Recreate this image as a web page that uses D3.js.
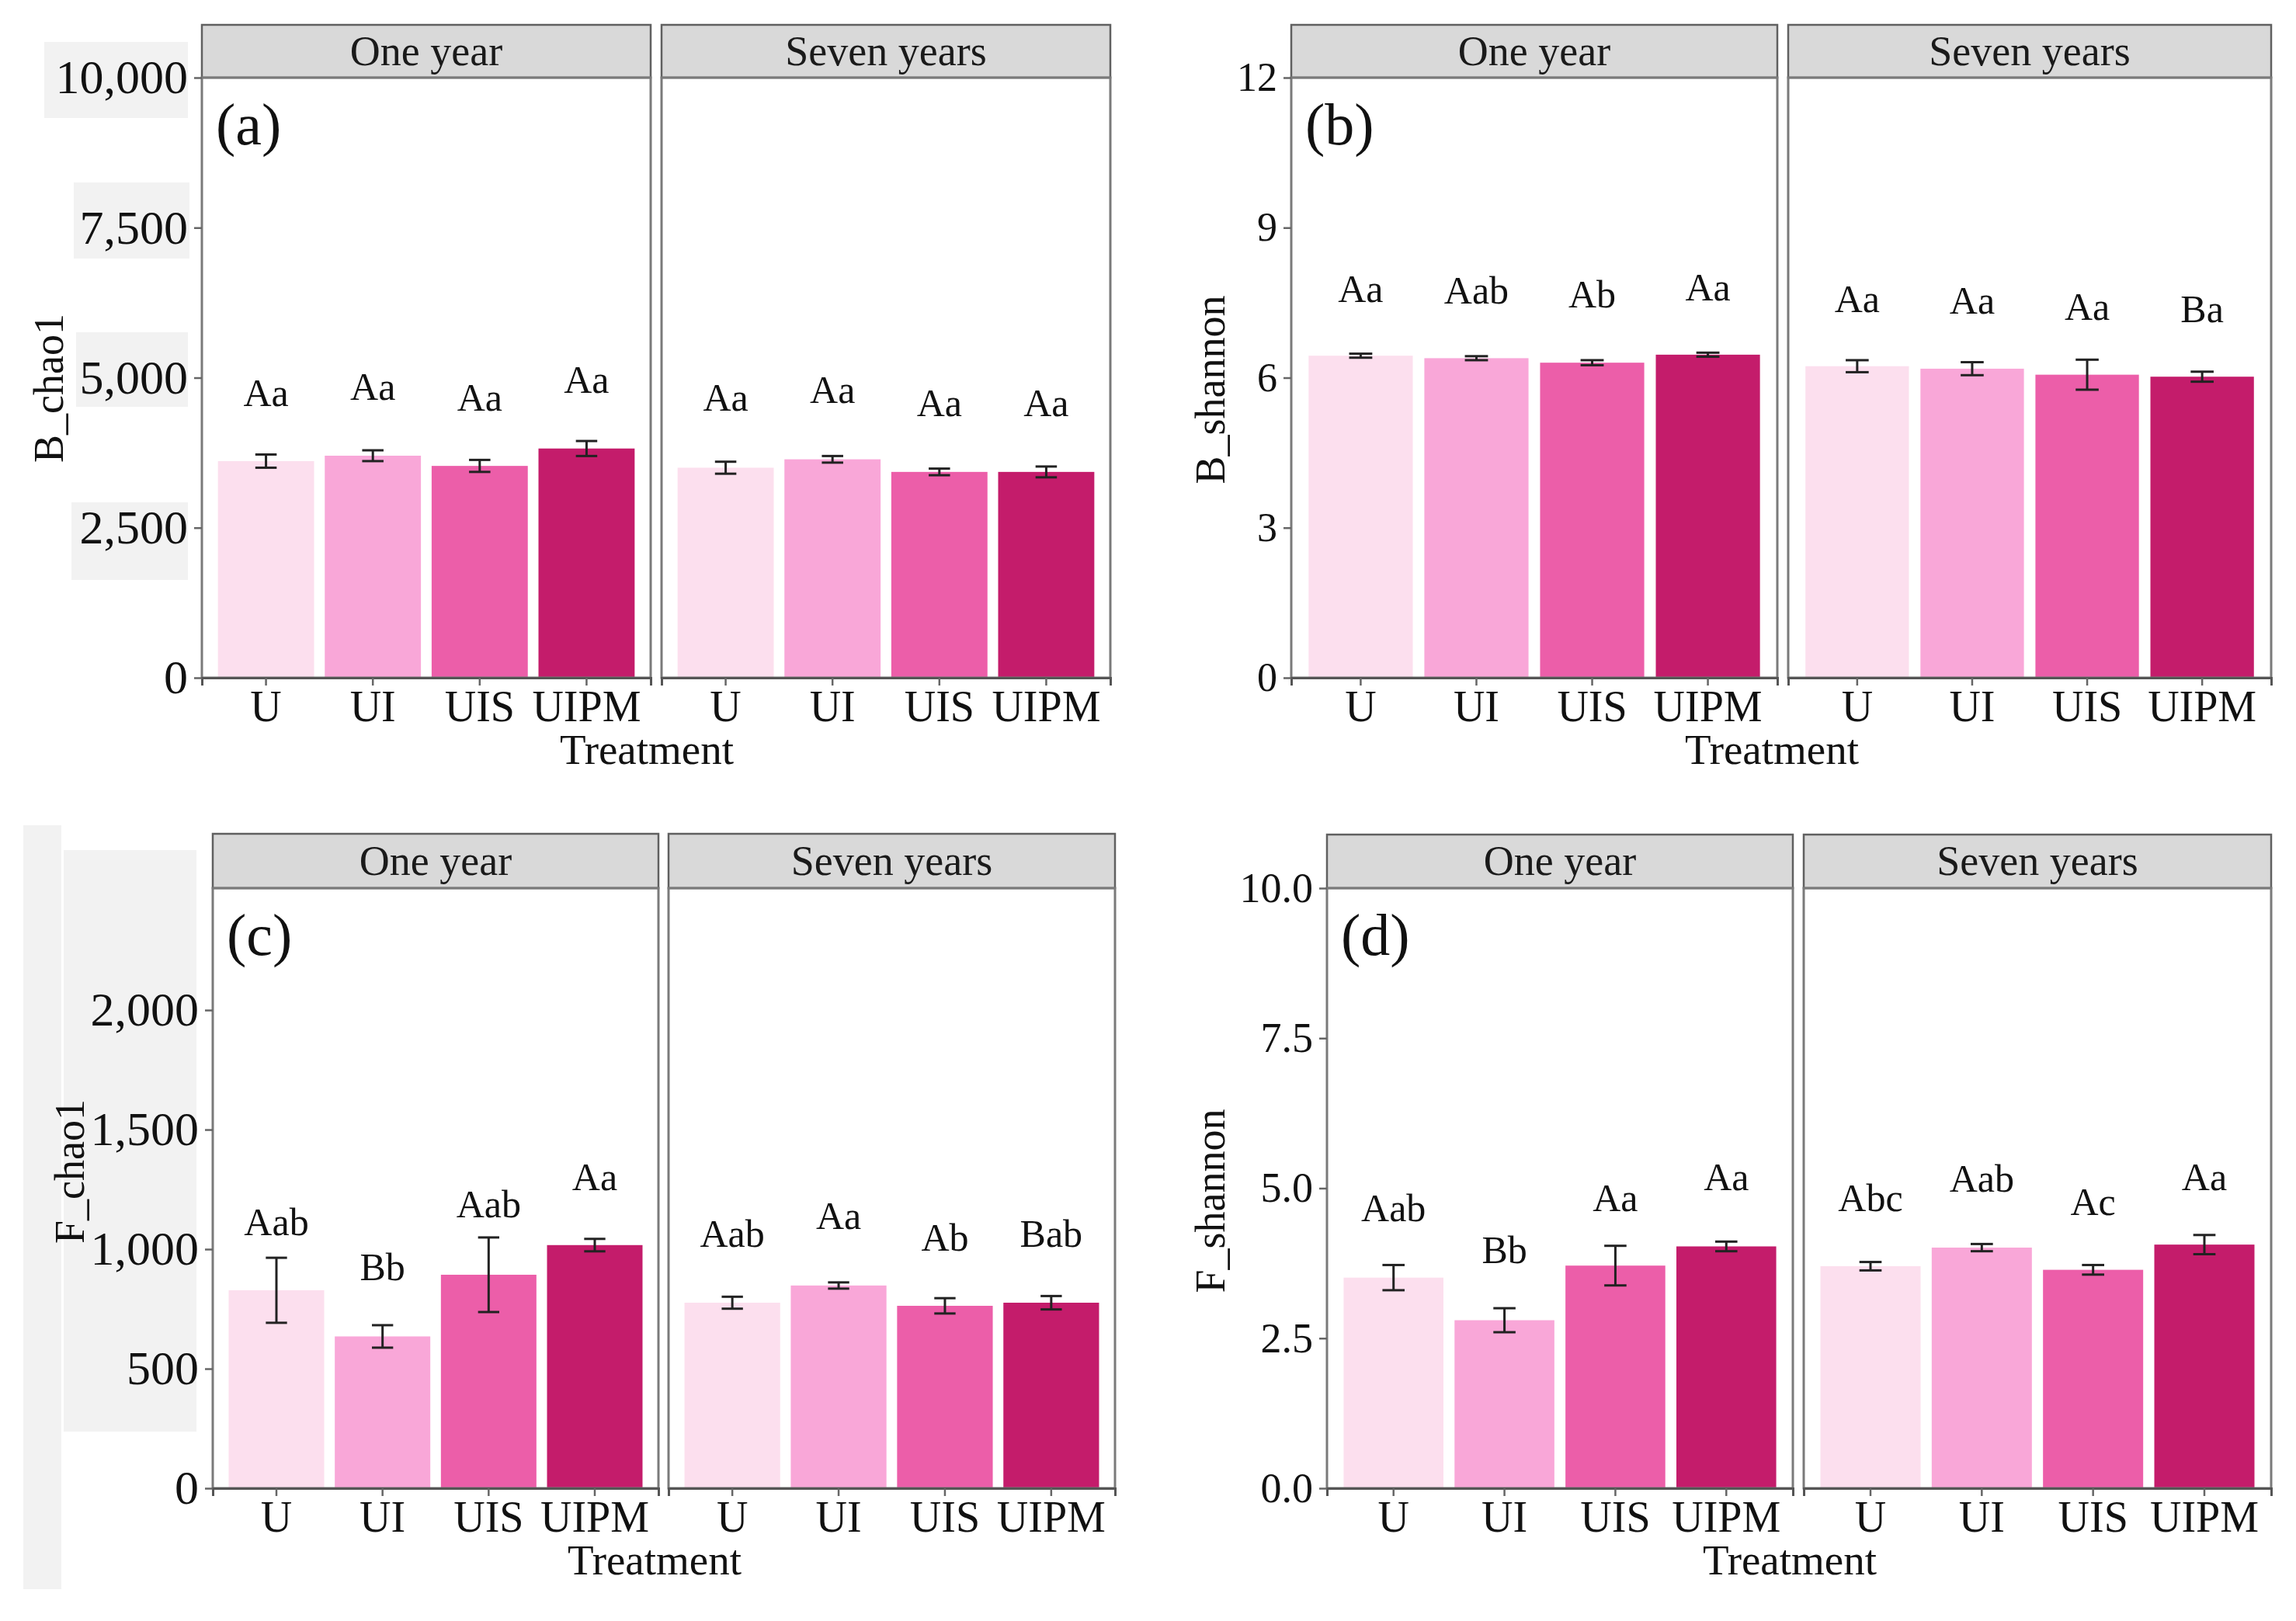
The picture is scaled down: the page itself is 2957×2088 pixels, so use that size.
<!DOCTYPE html>
<html>
<head>
<meta charset="utf-8">
<script src="https://cdn.jsdelivr.net/npm/d3@7"></script>
<style>
  body { margin: 0; background: #fff; }
  text { font-family: 'Liberation Serif', 'Times New Roman', serif; }
</style>
</head>
<body>
<svg id="chart" width="2957" height="2088"></svg>
<script>
// ---- data ----
const treatments = ["U", "UI", "UIS", "UIPM"];
const periods = ["One year", "Seven years"];
const fillColors = ["#fcdfee", "#f9a7d8", "#ec5ea9", "#c41c6b"];

// (a) bacterial chao1
const bChao1Mean = [[3610, 3700, 3530, 3820], [3500, 3640, 3430, 3430]];
const bChao1Se = [[110, 90, 100, 125], [100, 55, 55, 90]];
const bChao1Letters = [["Aa", "Aa", "Aa", "Aa"], ["Aa", "Aa", "Aa", "Aa"]];
const bChao1LabelY = [[4756, 4854, 4683, 4976], [4683, 4805, 4585, 4585]];
const bChao1Ticks = [0, 2500, 5000, 7500, 10000];

// (b) bacterial shannon
const bShannonMean = [[6.44, 6.39, 6.30, 6.46], [6.23, 6.18, 6.06, 6.02]];
const bShannonSe = [[0.04, 0.04, 0.05, 0.04], [0.12, 0.13, 0.30, 0.10]];
const bShannonLetters = [["Aa", "Aab", "Ab", "Aa"], ["Aa", "Aa", "Aa", "Ba"]];
const bShannonLabelY = [[7.79, 7.76, 7.67, 7.81], [7.58, 7.55, 7.43, 7.38]];
const bShannonTicks = [0, 3, 6, 9, 12];

// (c) fungal chao1
const fChao1Mean = [[828, 635, 893, 1017], [776, 848, 763, 776]];
const fChao1Se = [[136, 47, 156, 26], [25, 13, 32, 28]];
const fChao1Letters = [["Aab", "Bb", "Aab", "Aa"], ["Aab", "Aa", "Ab", "Bab"]];
const fChao1LabelY = [[1116, 927, 1189, 1305], [1067, 1140, 1049, 1067]];
const fChao1Ticks = [0, 500, 1000, 1500, 2000];

// (d) fungal shannon
const fShannonMean = [[3.51, 2.80, 3.71, 4.03], [3.70, 4.01, 3.64, 4.06]];
const fShannonSe = [[0.21, 0.20, 0.33, 0.08], [0.07, 0.06, 0.08, 0.16]];
const fShannonLetters = [["Aab", "Bb", "Aa", "Aa"], ["Abc", "Aab", "Ac", "Aa"]];
const fShannonLabelY = [[4.68, 3.98, 4.85, 5.20], [4.85, 5.17, 4.78, 5.20]];
const fShannonTicks = [0, 2.5, 5, 7.5, 10];

// ---- layout ----
const panels = [
  { tag: "(a)", title: "B_chao1", mean: bChao1Mean, se: bChao1Se, letters: bChao1Letters,
    labelY: bChao1LabelY, ticks: bChao1Ticks, yMax: 10000, fmt: d3.format(","),
    facets: [[260, 838], [852, 1430]], top: 100, bottom: 873, stripTop: 32,
    titleX: 62, titleY: 500, tickSize: 62 },
  { tag: "(b)", title: "B_shannon", mean: bShannonMean, se: bShannonSe, letters: bShannonLetters,
    labelY: bShannonLabelY, ticks: bShannonTicks, yMax: 12, fmt: d3.format("d"),
    facets: [[1663, 2289], [2303, 2925]], top: 100, bottom: 873, stripTop: 32,
    titleX: 1558, titleY: 502, tickSize: 52 },
  { tag: "(c)", title: "F_chao1", mean: fChao1Mean, se: fChao1Se, letters: fChao1Letters,
    labelY: fChao1LabelY, ticks: fChao1Ticks, yMax: 2510, fmt: d3.format(","),
    facets: [[274, 848], [861, 1436]], top: 1144, bottom: 1917, stripTop: 1074,
    titleX: 89, titleY: 1509, tickSize: 62 },
  { tag: "(d)", title: "F_shannon", mean: fShannonMean, se: fShannonSe, letters: fShannonLetters,
    labelY: fShannonLabelY, ticks: fShannonTicks, yMax: 10, fmt: d3.format(".1f"),
    facets: [[1709, 2309], [2323, 2925]], top: 1144, bottom: 1917, stripTop: 1075,
    titleX: 1558, titleY: 1547, tickSize: 54 }
];

const svg = d3.select("#chart");
svg.append("rect").attr("width", 2957).attr("height", 2088).attr("fill", "#fff");

// light grey patches behind some tick labels in the original figure
const patches = [[57, 54, 185, 98], [95, 235, 149, 98], [98, 428, 144, 96], [92, 647, 150, 100],
                 [30, 1063, 49, 984], [82, 1095, 171, 749]];
svg.selectAll("rect.patch").data(patches).enter().append("rect")
  .attr("class", "patch")
  .attr("x", d => d[0]).attr("y", d => d[1])
  .attr("width", d => d[2]).attr("height", d => d[3])
  .attr("fill", "#f2f2f2");

function drawPanel(p) {
  const g = svg.append("g");
  const y = d3.scaleLinear().domain([0, p.yMax]).range([p.bottom, p.top]);

  p.facets.forEach((f, k) => {
    const x = d3.scaleBand().domain(treatments).range(f)
      .paddingInner(0.1).paddingOuter(0.15);
    const fg = g.append("g");

    // strip
    fg.append("rect")
      .attr("x", f[0]).attr("y", p.stripTop)
      .attr("width", f[1] - f[0]).attr("height", p.top - p.stripTop)
      .attr("fill", "#d9d9d9").attr("stroke", "#606060").attr("stroke-width", 2.5);
    fg.append("text")
      .attr("x", (f[0] + f[1]) / 2).attr("y", (p.stripTop + p.top) / 2)
      .attr("dy", "0.33em").attr("text-anchor", "middle")
      .attr("font-size", 54).attr("fill", "#1a1a1a")
      .text(periods[k]);

    const rows = treatments.map((t, i) => ({
      t, i, m: p.mean[k][i], se: p.se[k][i], lab: p.letters[k][i], ly: p.labelY[k][i]
    }));

    // bars
    fg.selectAll("rect.bar").data(rows).enter().append("rect")
      .attr("class", "bar")
      .attr("x", d => x(d.t)).attr("width", x.bandwidth())
      .attr("y", d => y(d.m)).attr("height", d => y(0) - y(d.m))
      .attr("fill", d => fillColors[d.i]);

    // error bars
    const cap = x.step() * 0.1;
    const eb = fg.selectAll("g.eb").data(rows).enter().append("g")
      .attr("stroke", "#222").attr("stroke-width", 3);
    eb.append("line")
      .attr("x1", d => x(d.t) + x.bandwidth() / 2).attr("x2", d => x(d.t) + x.bandwidth() / 2)
      .attr("y1", d => y(d.m - d.se)).attr("y2", d => y(d.m + d.se));
    eb.append("line")
      .attr("x1", d => x(d.t) + x.bandwidth() / 2 - cap).attr("x2", d => x(d.t) + x.bandwidth() / 2 + cap)
      .attr("y1", d => y(d.m + d.se)).attr("y2", d => y(d.m + d.se));
    eb.append("line")
      .attr("x1", d => x(d.t) + x.bandwidth() / 2 - cap).attr("x2", d => x(d.t) + x.bandwidth() / 2 + cap)
      .attr("y1", d => y(d.m - d.se)).attr("y2", d => y(d.m - d.se));

    // significance letters
    fg.selectAll("text.sig").data(rows).enter().append("text")
      .attr("class", "sig")
      .attr("x", d => x(d.t) + x.bandwidth() / 2).attr("y", d => y(d.ly))
      .attr("dy", "0.35em").attr("text-anchor", "middle")
      .attr("font-size", 50).attr("fill", "#111")
      .text(d => d.lab);

    // panel border
    fg.append("rect")
      .attr("x", f[0]).attr("y", p.top)
      .attr("width", f[1] - f[0]).attr("height", p.bottom - p.top)
      .attr("fill", "none").attr("stroke", "#7a7a7a").attr("stroke-width", 3);

    // x axis
    const xa = fg.append("g").attr("transform", `translate(0,${p.bottom})`)
      .call(d3.axisBottom(x).tickSize(10).tickPadding(6));
    xa.select(".domain").attr("stroke", "#555").attr("stroke-width", 3);
    xa.selectAll(".tick line").attr("stroke", "#666").attr("stroke-width", 2.5);
    xa.selectAll(".tick text").attr("font-size", 56).attr("fill", "#111")
      .attr("font-family", "'Liberation Serif', 'Times New Roman', serif");
  });

  // y axis
  const ya = g.append("g").attr("transform", `translate(${p.facets[0][0]},0)`)
    .call(d3.axisLeft(y).tickValues(p.ticks).tickFormat(p.fmt).tickSize(10).tickPadding(8));
  ya.select(".domain").remove();
  ya.selectAll(".tick line").attr("stroke", "#666").attr("stroke-width", 2.5);
  ya.selectAll(".tick text").attr("font-size", p.tickSize).attr("fill", "#111")
    .attr("font-family", "'Liberation Serif', 'Times New Roman', serif");

  // panel tag
  g.append("text")
    .attr("x", p.facets[0][0] + 18).attr("y", p.top + 86)
    .attr("font-size", 76).attr("fill", "#111")
    .text(p.tag);

  // axis titles
  g.append("text")
    .attr("transform", `translate(${p.titleX},${p.titleY}) rotate(-90)`)
    .attr("dy", "0.35em").attr("text-anchor", "middle")
    .attr("font-size", 54).attr("fill", "#111")
    .text(p.title);
  g.append("text")
    .attr("x", (p.facets[0][0] + p.facets[1][1]) / 2 - 12).attr("y", p.bottom + 111)
    .attr("text-anchor", "middle")
    .attr("font-size", 55).attr("fill", "#111")
    .text("Treatment");
}

panels.forEach(drawPanel);
</script>
</body>
</html>
